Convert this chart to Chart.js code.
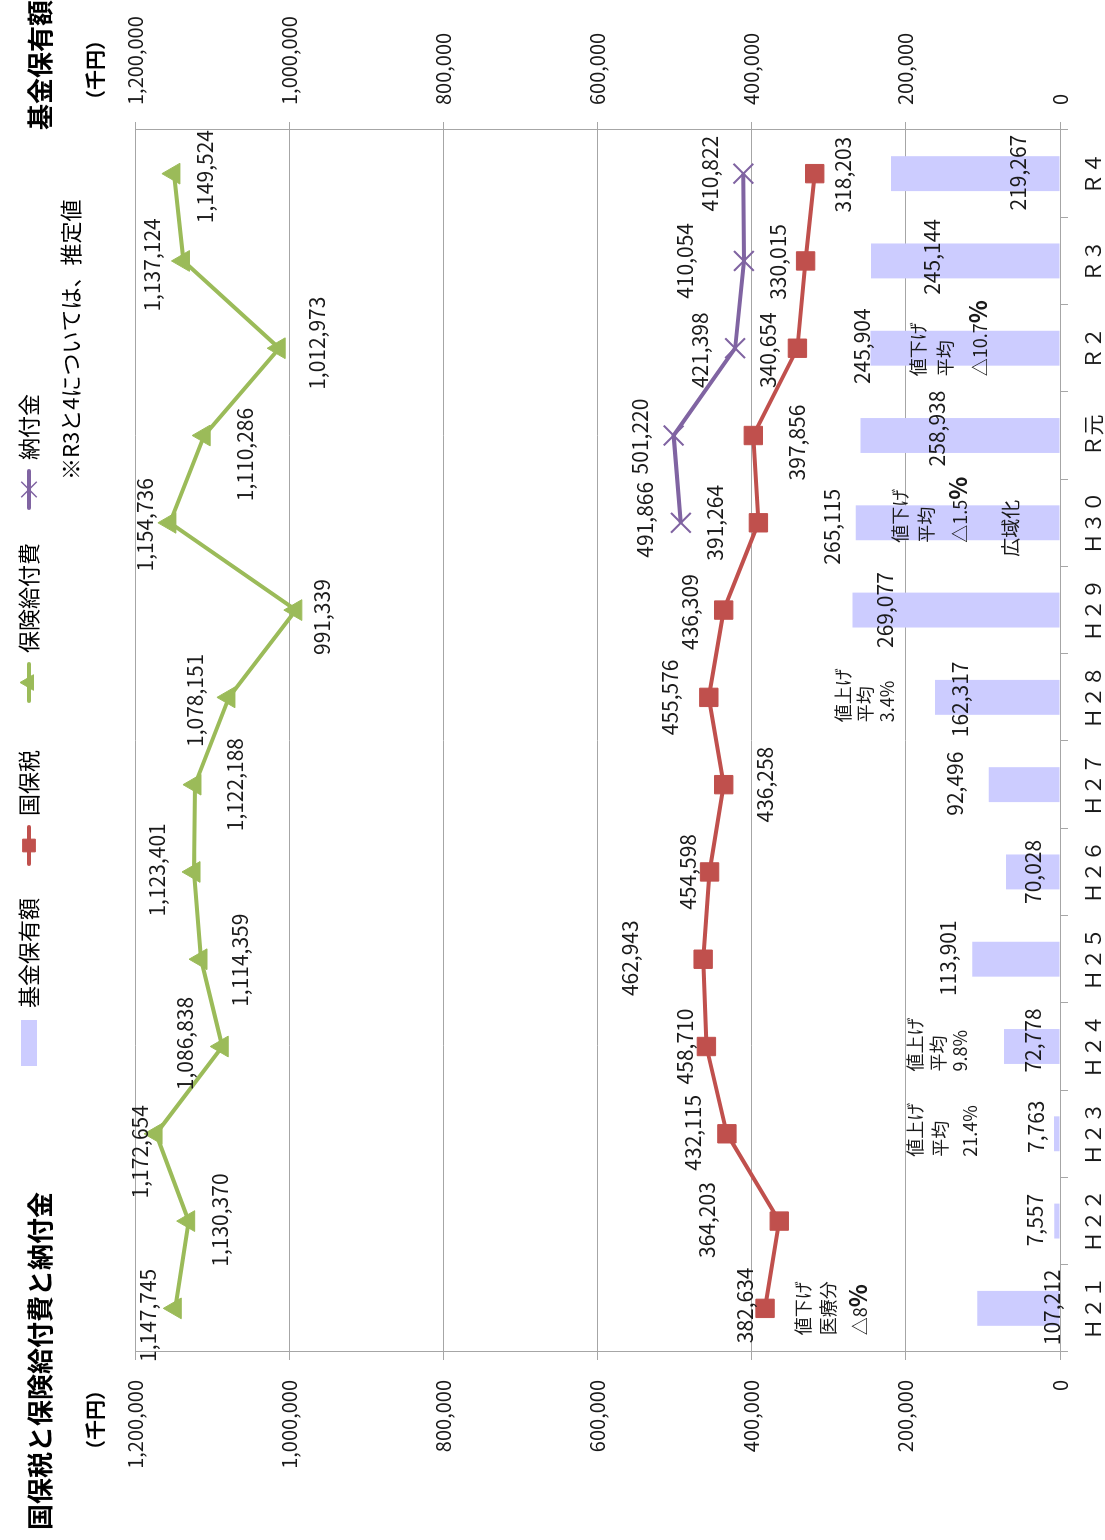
<!DOCTYPE html>
<html lang="ja">
<head>
<meta charset="utf-8">
<title>国保税と保険給付費と納付金</title>
<script src="https://cdn.jsdelivr.net/npm/chart.js@4.4.1/dist/chart.umd.min.js"></script>
<style>
  html, body { margin: 0; padding: 0; background: #fff; overflow: hidden; }
  #page { position: absolute; left: 0; top: 0; width: 1105px; height: 1540px; overflow: hidden; }
  /* the chart is laid out landscape and turned a quarter turn to stand in the portrait page */
  #frame { position: absolute; left: 0; top: 0; width: 1540px; height: 1105px;
           transform-origin: 0 0; transform: translate(0, 1540px) rotate(-90deg); }
  canvas { display: block; }
</style>
</head>
<body>
<div id="page"><div id="frame"><canvas id="chart" width="1540" height="1105"></canvas></div></div>
<script>
// ---- data (千円) ----
const categories = ['Ｈ２１', 'Ｈ２２', 'Ｈ２３', 'Ｈ２４', 'Ｈ２５', 'Ｈ２６', 'Ｈ２７',
                    'Ｈ２８', 'Ｈ２９', 'Ｈ３０', 'Ｒ元', 'Ｒ２', 'Ｒ３', 'Ｒ４'];
const fundBalance = [107212, 7557, 7763, 72778, 113901, 70028, 92496,
                     162317, 269077, 265115, 258938, 245904, 245144, 219267];
const nationalHealthTax = [382634, 364203, 432115, 458710, 462943, 454598, 436258,
                           455576, 436309, 391264, 397856, 340654, 330015, 318203];
const insuranceBenefits = [1147745, 1130370, 1172654, 1086838, 1114359, 1123401, 1122188,
                           1078151, 991339, 1154736, 1110286, 1012973, 1137124, 1149524];
const prefecturalLevy = [null, null, null, null, null, null, null,
                         null, null, 491866, 501220, 421398, 410054, 410822];
const axisMin = 0;
const axisMax = 1200000;
const axisStep = 200000;

// ---- value label placement: [dx, dy] from the bar end / point ----
const fundLabelOffsets = [[1, 75], [1, -19], [7, -18], [6, 29], [1, -24], [0, 27], [1, -34],
                          [-2, 25], [0, 32], [-4, -24], [7, 77], [2, -8], [4, 61], [1, 127]];
const taxLabelOffsets = [[3, -20], [1, -72], [1, -34], [0, -21], [1, -73], [0, -22], [0, 41],
                         [0, -39], [-2, -34], [0, -43], [-7, 44], [-2, -29], [-1, -28], [-1, 28]];
const benefitLabelOffsets = [[-7, -27], [1, 31], [-18, -16], [3, -37], [-1, 39], [2, -37], [0, 40],
                             [-3, -34], [-7, 26], [-2, -25], [-19, 41], [5, 38], [-4, -31], [-3, 31]];
const levyLabelOffsets = [null, null, null, null, null, null, null,
                          null, null, [3, -36], [-1, -34], [-2, -35], [0, -59], [0, -33]];

// ---- rate revision notes: category, x shift, and lines (y from the category axis) ----
const rateNotes = [
  { cat: 0, dx: -27, size: 18, lines: [[-257, '値下げ'], [-232, '医療分'], [-200, '△8', '%']] },
  { cat: 2, dx: -23, size: 18, lines: [[-145, '値上げ'], [-120, '平均'], [-90, '21.4%']] },
  { cat: 3, dx: -25, size: 18, lines: [[-145, '値上げ'], [-122, '平均'], [-100, '9.8%']] },
  { cat: 7, dx: -25, size: 18, lines: [[-217, '値上げ'], [-195, '平均'], [-173, '3.4%']] },
  { cat: 9, dx: -20, size: 18, lines: [[-160, '値下げ'], [-134, '平均'], [-100, '△1.5', '%']] },
  { cat: 9, dx: -34, size: 19, lines: [[-49, '広域化']] },
  { cat: 11, dx: -28, size: 18, lines: [[-142, '値下げ'], [-115, '平均'], [-80, '△10.7', '%']] }
];

const FONT = '"Noto Sans CJK JP", "Noto Sans", sans-serif';
const GRID = '#a6a6a6';
const TEXT = '#1a1a1a';
const fmt = v => v.toLocaleString('en-US');

// value labels next to every bar and point
const valueLabels = {
  id: 'valueLabels',
  afterDatasetsDraw(chart) {
    const ctx = chart.ctx;
    ctx.save();
    ctx.font = '21px ' + FONT;
    ctx.fillStyle = TEXT;
    ctx.textAlign = 'center';
    ctx.textBaseline = 'middle';
    chart.data.datasets.forEach((ds, di) => {
      const meta = chart.getDatasetMeta(di);
      meta.data.forEach((el, i) => {
        const v = ds.data[i];
        const off = ds.labelOffsets[i];
        if (v == null || !off) return;
        ctx.fillText(fmt(v), el.x + off[0], el.y + off[1]);
      });
    });
    ctx.restore();
  }
};

// notes on the rate revisions
const notesPlugin = {
  id: 'rateNotes',
  afterDatasetsDraw(chart) {
    const ctx = chart.ctx;
    const xs = chart.scales.x;
    const base = chart.chartArea.bottom;
    ctx.save();
    ctx.fillStyle = TEXT;
    ctx.textAlign = 'left';
    ctx.textBaseline = 'middle';
    rateNotes.forEach(n => {
      const x0 = xs.getPixelForValue(n.cat) + n.dx;
      n.lines.forEach(([dy, text, boldTail]) => {
        ctx.font = n.size + 'px ' + FONT;
        ctx.fillText(text, x0, base + dy);
        if (boldTail) {
          const w = ctx.measureText(text).width;
          ctx.font = 'bold 24px ' + FONT;
          ctx.fillText(boldTail, x0 + w, base + dy - 2);
        }
      });
    });
    ctx.restore();
  }
};

// titles, units, footnote and legend
const framePlugin = {
  id: 'frameTexts',
  afterDraw(chart) {
    const ctx = chart.ctx;
    ctx.save();
    ctx.fillStyle = '#000';
    ctx.textBaseline = 'middle';
    ctx.textAlign = 'left';
    ctx.font = 'bold 26px ' + FONT;
    ctx.fillText('国保税と保険給付費と納付金', 10, 40);
    ctx.fillText('基金保有額', 1410, 40);
    ctx.textAlign = 'center';
    ctx.font = 'bold 20px ' + FONT;
    ctx.fillText('（千円）', 120, 95);
    ctx.fillText('（千円）', 1470, 95);
    ctx.textAlign = 'left';
    ctx.font = '22px ' + FONT;
    ctx.fillText('※R3と4については、推定値', 1060, 71);

    // legend
    const ly = 29;
    const legendX = [474, 676, 839, 1032];
    const ds = chart.data.datasets;
    ctx.font = '22px ' + FONT;
    ds.forEach((d, k) => {
      const x = legendX[k];
      let tx;
      if (d.type === 'bar') {
        ctx.fillStyle = d.backgroundColor;
        ctx.fillRect(x, ly - 8, 46, 16);
        tx = x + 58;
      } else {
        ctx.strokeStyle = d.borderColor;
        ctx.lineWidth = 4;
        ctx.lineCap = 'round';
        ctx.beginPath();
        ctx.moveTo(x, ly);
        ctx.lineTo(x + 37, ly);
        ctx.stroke();
        ctx.lineCap = 'butt';
        ctx.fillStyle = d.pointBackgroundColor;
        ctx.strokeStyle = d.pointBorderColor;
        ctx.lineWidth = d.pointStyle === 'crossRot' ? 1.5 : 1;
        Chart.helpers.drawPoint(ctx, {
          pointStyle: d.pointStyle, radius: d.pointStyle === 'crossRot' ? 11 : 9, borderWidth: 1, rotation: 0
        }, x + 18.5, ly);
        tx = x + 48;
      }
      ctx.fillStyle = '#000';
      ctx.fillText(d.label, tx, ly);
    });
    ctx.restore();
  }
};

const tickFont = { family: FONT, size: 20 };

new Chart(document.getElementById('chart'), {
  data: {
    labels: categories,
    datasets: [
      {
        type: 'bar', label: '基金保有額', data: fundBalance, yAxisID: 'y2', order: 10,
        backgroundColor: '#ccccff', borderWidth: 0,
        categoryPercentage: 1.0, barPercentage: 0.4,
        labelOffsets: fundLabelOffsets
      },
      {
        type: 'line', label: '国保税', data: nationalHealthTax, yAxisID: 'y', order: 3,
        borderColor: '#c0504d', borderWidth: 4, tension: 0,
        pointStyle: 'rect', pointRadius: 13, pointHoverRadius: 13,
        pointBackgroundColor: '#c0504d', pointBorderColor: '#c0504d', pointBorderWidth: 1,
        labelOffsets: taxLabelOffsets
      },
      {
        type: 'line', label: '保険給付費', data: insuranceBenefits, yAxisID: 'y', order: 2,
        borderColor: '#9bbb59', borderWidth: 4, tension: 0,
        pointStyle: 'triangle', pointRadius: 12, pointHoverRadius: 12,
        pointBackgroundColor: '#9bbb59', pointBorderColor: '#9bbb59', pointBorderWidth: 1,
        labelOffsets: benefitLabelOffsets
      },
      {
        type: 'line', label: '納付金', data: prefecturalLevy, yAxisID: 'y', order: 1,
        borderColor: '#8064a2', borderWidth: 4, tension: 0, spanGaps: false,
        pointStyle: 'crossRot', pointRadius: 14, pointHoverRadius: 14,
        pointBackgroundColor: '#8064a2', pointBorderColor: '#8064a2', pointBorderWidth: 2,
        labelOffsets: levyLabelOffsets
      }
    ]
  },
  options: {
    responsive: false,
    animation: false,
    devicePixelRatio: 1,
    layout: { padding: { top: 135, left: 0, right: 0, bottom: 0 } },
    plugins: { legend: { display: false }, title: { display: false }, tooltip: { enabled: false } },
    scales: {
      x: {
        type: 'category', offset: true,
        grid: { offset: true, drawOnChartArea: false, drawTicks: true, tickLength: 8, color: GRID, lineWidth: 1 },
        border: { display: true, color: GRID, width: 1 },
        ticks: { font: { family: FONT, size: 21 }, color: TEXT, padding: 12, maxRotation: 0, autoSkip: false },
        afterFit(s) { s.height = 45; }
      },
      y: {
        position: 'left', min: axisMin, max: axisMax,
        ticks: { stepSize: axisStep, callback: v => fmt(v), font: tickFont, color: TEXT, padding: 20 },
        grid: { color: GRID, lineWidth: 1, tickLength: 8 },
        border: { display: true, color: GRID, width: 1 },
        afterFit(s) { s.width = 188; }
      },
      y2: {
        position: 'right', min: axisMin, max: axisMax,
        ticks: { stepSize: axisStep, callback: v => fmt(v), font: tickFont, color: TEXT, padding: 17 },
        grid: { drawOnChartArea: false, color: GRID, lineWidth: 1, tickLength: 8 },
        border: { display: true, color: GRID, width: 1 },
        afterFit(s) { s.width = 130; }
      }
    }
  },
  plugins: [valueLabels, notesPlugin, framePlugin]
});
</script>
</body>
</html>
